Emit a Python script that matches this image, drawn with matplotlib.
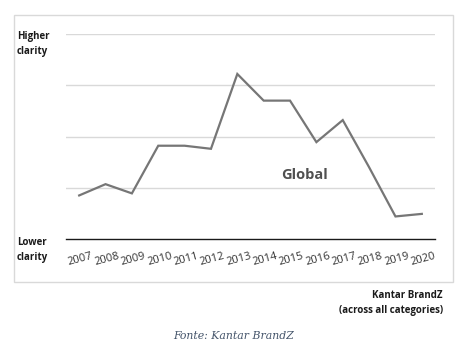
import matplotlib
matplotlib.use("Agg")
import matplotlib.pyplot as plt
from matplotlib.patches import Rectangle

years = ["2007", "2008", "2009", "2010", "2011", "2012", "2013",
         "2014", "2015", "2016", "2017", "2018", "2019", "2020"]
clarity = [0.85, 1.07, 0.89, 1.82, 1.82, 1.76, 3.22,
           2.70, 2.70, 1.89, 2.32, 1.40, 0.44, 0.49]

W, H = 467, 351
fig = plt.figure(figsize=(W / 100, H / 100), dpi=100)
fig.patch.set_facecolor("white")

def fx(px):
    return px / W

def fy(py):
    return 1 - py / H

# outer chart frame
fig.patches.append(Rectangle((fx(14), fy(282)), fx(453) - fx(14), fy(15) - fy(282),
                             transform=fig.transFigure, fill=False,
                             edgecolor="#d9d9d9", linewidth=1.0))

ax = fig.add_axes([fx(66), fy(239), fx(435) - fx(66), fy(34) - fy(239)])
x = list(range(len(years)))
ax.plot(x, clarity, color="#767676", linewidth=1.6, solid_joinstyle="miter")
ax.set_xlim(-0.5, len(years) - 0.5)
ax.set_ylim(0, 4)
ax.set_yticks([1, 2, 3, 4])
ax.yaxis.grid(True, color="#d9d9d9", linewidth=1.0)
ax.set_axisbelow(True)
for s in ["top", "right", "left"]:
    ax.spines[s].set_visible(False)
ax.spines["bottom"].set_color("#1a1a1a")
ax.spines["bottom"].set_linewidth(1.0)
ax.tick_params(axis="y", left=False, labelleft=False)
ax.tick_params(axis="x", bottom=False, pad=7)
ax.set_xticks(x)
ax.set_xticklabels(years, rotation=15, fontsize=8.0, color="#333333",
                   family="Open Sans", ha="center", rotation_mode="anchor", va="top")

fig.text(fx(305), fy(175), "Global", fontsize=10.5, fontweight="bold",
         color="#505050", ha="center", va="center", family="Open Sans")

fig.text(fx(17), fy(44), "Higher\nclarity", fontsize=7, fontweight="bold",
         color="#1a1a1a", ha="left", va="center", family="Open Sans", linespacing=1.55)
fig.text(fx(17), fy(250), "Lower\nclarity", fontsize=7, fontweight="bold",
         color="#1a1a1a", ha="left", va="center", family="Open Sans", linespacing=1.55)

fig.text(fx(443), fy(303), "Kantar BrandZ\n(across all categories)", fontsize=7,
         fontweight="bold", color="#1a1a1a", ha="right", va="center",
         family="Open Sans", multialignment="right", linespacing=1.45)

fig.text(fx(234), fy(336), "Fonte: Kantar BrandZ", fontsize=7.8, style="italic",
         color="#44546a", ha="center", va="center", family="DejaVu Serif")

fig.savefig("out.png", dpi=100)
